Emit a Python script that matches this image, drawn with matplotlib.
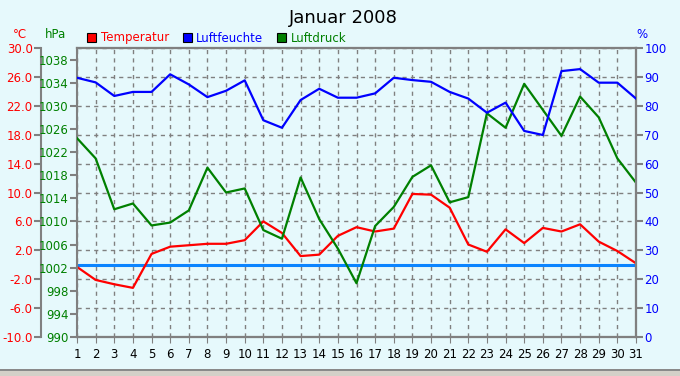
import matplotlib
matplotlib.use("Agg")
import matplotlib.pyplot as plt
from matplotlib.patches import Rectangle

# Tageswerte Januar 2008
tage = list(range(1, 32))
temperatur = [-0.3, -2.1, -2.7, -3.2, 1.5, 2.5, 2.7, 2.9, 2.9, 3.4,
              6.0, 4.4, 1.2, 1.4, 4.0, 5.2, 4.6, 5.0, 9.8, 9.7,
              7.9, 2.8, 1.8, 4.9, 3.0, 5.1, 4.6, 5.6, 3.2, 1.9, 0.2]
luftfeuchte = [89.7, 88.1, 83.4, 84.8, 84.8, 90.9, 87.4, 83.0, 85.2, 88.8,
               75.0, 72.4, 82.0, 85.9, 82.8, 82.8, 84.3, 89.7, 88.9, 88.3,
               84.8, 82.5, 77.6, 81.1, 71.3, 69.9, 92.0, 92.7, 88.0, 88.0, 82.5]
luftdruck = [1024.4, 1020.9, 1012.1, 1013.1, 1009.3, 1009.8, 1011.9, 1019.3, 1015.0, 1015.7,
             1008.5, 1007.0, 1017.6, 1010.4, 1005.3, 999.3, 1009.2, 1012.5, 1017.7, 1019.7,
             1013.3, 1014.2, 1028.7, 1026.2, 1033.8, 1029.3, 1024.8, 1031.6, 1028.0, 1020.9, 1016.7]
t_ticks = list(range(-10, 31, 4))
p_ticks = list(range(990, 1039, 4))
h_ticks = list(range(0, 101, 10))

bg = '#E6F9FC'
grau = '#808080'
fs = 8.5
W, H = 680, 376

fig = plt.figure(figsize=(W / 100, H / 100), dpi=100)
fig.patch.set_facecolor(bg)

ax = fig.add_axes([77 / W, 39 / H, 559 / W, 289 / H])
ax.set_facecolor(bg)
ax.set_xlim(1, 31)
ax.set_ylim(-10, 30)
ax.set_xticks(tage)
ax.set_yticks(t_ticks)
ax.set_yticklabels(['%.1f' % t for t in t_ticks])
ax.tick_params(axis='y', colors='red', labelsize=fs, length=5, width=1.5, pad=1)
ax.tick_params(axis='y', color=grau)
ax.tick_params(axis='x', labelsize=fs, length=4, color=grau, pad=4)
ax.spines['left'].set_position(('outward', 36 * 0.72))
for s in ax.spines.values():
    s.set_color(grau)
    s.set_linewidth(1.5)
ax.grid(True, color=grau, linestyle=(0, (3, 3)), linewidth=1)
ax.axhline(0, color='#0A84FF', linewidth=2.2, zorder=2)
ax.plot(tage, temperatur, color='#FF0000', linewidth=1.6, zorder=3)

# Luftdruck, Achse am linken Rand des Diagramms
ax_p = ax.twinx()
ax_p.set_ylim(990, 1040)
ax_p.set_yticks(p_ticks)
ax_p.yaxis.tick_left()
ax_p.tick_params(axis='y', labelcolor='#008000', labelsize=fs, length=5, width=1.5, color=grau, pad=1)
for s in ax_p.spines.values():
    s.set_color(grau)
    s.set_linewidth(1.5)
ax_p.plot(tage, luftdruck, color='#008000', linewidth=1.6, zorder=3)

# Luftfeuchte, rechte Achse
ax_h = ax.twinx()
ax_h.set_ylim(0, 100)
ax_h.set_yticks(h_ticks)
ax_h.tick_params(axis='y', labelcolor='#0000FF', labelsize=fs, length=5, width=1.5, color=grau, pad=1)
for s in ax_h.spines.values():
    s.set_color(grau)
    s.set_linewidth(1.5)
ax_h.spines['left'].set_visible(False)
ax_h.plot(tage, luftfeuchte, color='#0000FF', linewidth=1.6, zorder=3)


def ft(x, y, s, **kw):
    fig.text(x / W, 1 - y / H, s, **kw)


ft(343, 18, 'Januar 2008', fontsize=13, ha='center', va='center')
ft(20, 34, '°C', color='red', fontsize=fs, ha='center', va='center')
ft(55, 34, 'hPa', color='#008000', fontsize=fs, ha='center', va='center')
ft(642, 34, '%', color='#0000FF', fontsize=fs, ha='center', va='center')

# Legende
for x0, farbe, name, tx in [(87, '#FF0000', 'Temperatur', 101),
                            (183, '#0000FF', 'Luftfeuchte', 196),
                            (277, '#008000', 'Luftdruck', 291)]:
    fig.add_artist(Rectangle((x0 / W, 1 - 42 / H), 9 / W, 9 / H, facecolor=farbe,
                             edgecolor='black', linewidth=0.8, transform=fig.transFigure))
    ft(tx, 38, name, color=farbe, fontsize=fs, ha='left', va='center')

# Fensterrand unten
fig.add_artist(Rectangle((0, 0), 1, 7 / H, facecolor='#D4D0C8', edgecolor='none',
                         transform=fig.transFigure))
fig.add_artist(Rectangle((0, 5 / H), 1, 2 / H, facecolor='#8A8A8A', edgecolor='none',
                         transform=fig.transFigure))

fig.savefig('out.png', dpi=100, facecolor=bg)
